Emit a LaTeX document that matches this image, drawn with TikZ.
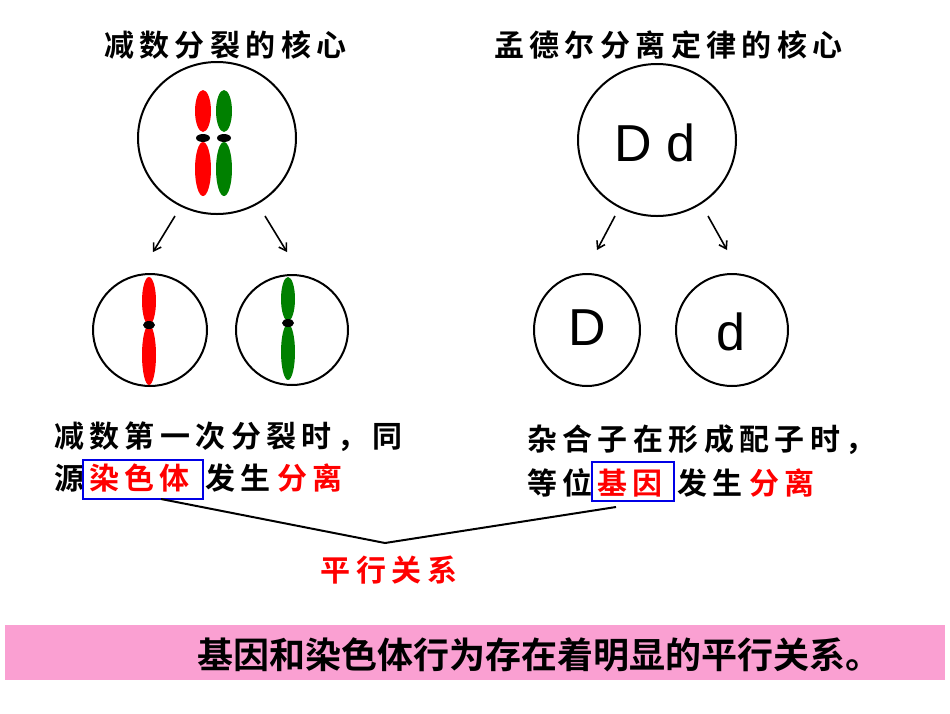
\documentclass[tikz,border=0pt]{standalone}
\usepackage{fontspec}
\usetikzlibrary{arrows.meta}
\setmainfont{Liberation Sans}
\newfontfamily\cjk[LetterSpace=18]{Noto Sans CJK SC Bold}
\newfontfamily\cjkb{Noto Sans CJK SC Bold}
\begin{document}
\begin{tikzpicture}[x=1pt,y=-1pt,
  cell/.style={draw,line width=2pt},
  arr/.style={-{Straight Barb[length=7pt,width=9pt]},line width=1.6pt},
  txt/.style={font=\fontsize{30}{30}\cjk,anchor=west,inner sep=0},
  rtxt/.style={txt,text={rgb,255:red,255;green,0;blue,0}},
  bx/.style={draw={rgb,255:red,0;green,0;blue,230},line width=1.8pt}]
\useasboundingbox (0,0) rectangle (950,713);
\definecolor{chr}{RGB}{255,0,0}\definecolor{chg}{RGB}{0,128,0}
% titles
\node[txt] (t1) at (104,45) {减数分裂的核心};
\node[txt] (t2) at (494,45) {孟德尔分离定律的核心};
% left cells
\draw[cell] (217,138) ellipse [x radius=79,y radius=76];
\fill[chr] (203,111) ellipse [x radius=8,y radius=21];
\fill[chr] (203,169) ellipse [x radius=8,y radius=27];
\fill[chg] (224,111) ellipse [x radius=8,y radius=21];
\fill[chg] (224,169) ellipse [x radius=8,y radius=27];
\fill (203,138) ellipse [x radius=7,y radius=4];
\fill (224,138) ellipse [x radius=7,y radius=4];
\coordinate (a1) at (175,216); \coordinate (a2) at (153,252);
\coordinate (a3) at (265,216); \coordinate (a4) at (287,252);
\draw[arr] (a1) -- (a2); \draw[arr] (a3) -- (a4);
\draw[cell] (150,330) ellipse [x radius=57,y radius=56];
\draw[cell] (292,330) ellipse [x radius=56,y radius=55];
\fill[chr] (149,301) ellipse [x radius=7,y radius=24];
\fill[chr] (149,355) ellipse [x radius=7,y radius=30];
\fill (149,325) ellipse [x radius=6,y radius=4];
\fill[chg] (288,299) ellipse [x radius=7,y radius=22];
\fill[chg] (288,352) ellipse [x radius=7,y radius=28];
\fill (288,323) ellipse [x radius=6,y radius=4];
% right cells
\draw[cell] (657,140) ellipse [x radius=79,y radius=76];
\node[font=\fontsize{52}{52}\selectfont] (dd) at (655,143) {D d};
\coordinate (b1) at (615,216); \coordinate (b2) at (597,250);
\coordinate (b3) at (708,216); \coordinate (b4) at (727,250);
\draw[arr] (b1) -- (b2); \draw[arr] (b3) -- (b4);
\draw[cell] (587,330) ellipse [x radius=53,y radius=56];
\draw[cell] (732,330) ellipse [x radius=56,y radius=56];
\node[font=\fontsize{52}{52}\selectfont] (D) at (587,328) {D};
\node[font=\fontsize{52}{52}\selectfont] (d) at (731,332) {d};
% left text
\node[txt] (l1) at (54,437) {减数第一次分裂时，同};
\node[txt] (l2a) at (54,478) {源};
\node[rtxt] (l2b) at (89,478) {染色体};
\node[txt] (l2c) at (205,478) {发生};
\node[rtxt] (l2d) at (277,478) {分离};
\draw[bx] (83,460) rectangle (203,499);
% right text
\node[txt] (r1) at (527,440) {杂合子在形成配子时，};
\node[txt] (r2a) at (527,483) {等位};
\node[rtxt] (r2b) at (597,483) {基因};
\node[txt] (r2c) at (677,483) {发生};
\node[rtxt] (r2d) at (749,483) {分离};
\draw[bx] (592,462) rectangle (674,501);
% parallel lines
\coordinate (p1) at (161,499); \coordinate (pv) at (385,543); \coordinate (p2) at (616,507);
\draw[line width=2pt] (p1) -- (pv) -- (p2);
\node[rtxt,anchor=center] (pl) at (389,570) {平行关系};
% bottom band
\fill[fill={rgb,255:red,250;green,160;blue,210}] (5,625) rectangle (945,680);
\node[font=\fontsize{36}{36}\cjkb,anchor=west,inner sep=0] (bt) at (197,655) {基因和染色体行为存在着明显的平行关系。};
\end{tikzpicture}
\end{document}
